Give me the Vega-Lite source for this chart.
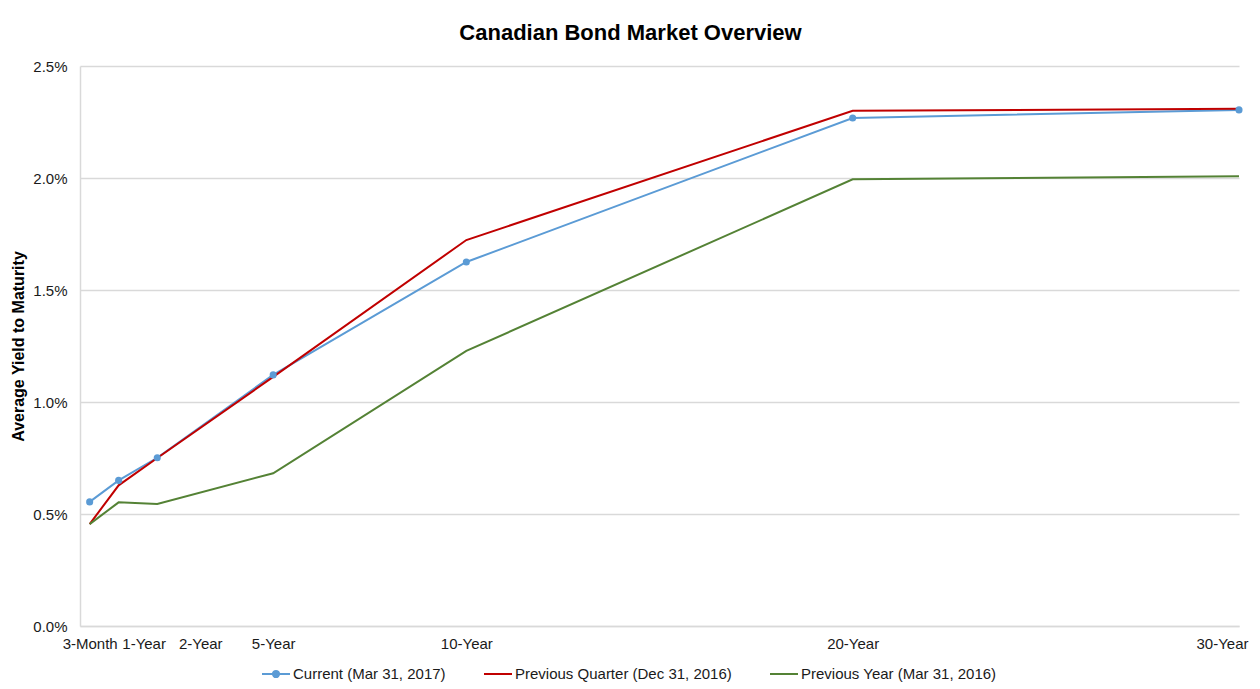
{
  "$schema": "https://vega.github.io/schema/vega-lite/v6.json",
  "width": 1159,
  "height": 560,
  "autosize": "none",
  "padding": {"left": 80, "top": 66, "right": 21, "bottom": 63},
  "background": "white",
  "title": {
    "text": "Canadian Bond Market Overview",
    "font": "Liberation Sans",
    "fontSize": 22,
    "fontWeight": "bold",
    "color": "#000000",
    "anchor": "middle",
    "frame": "group",
    "dx": -29,
    "offset": 14
  },
  "data": {
    "values": [
      {"series": "Current (Mar 31, 2017)", "years": 0.25, "yield": 0.00554},
      {"series": "Current (Mar 31, 2017)", "years": 1, "yield": 0.00650},
      {"series": "Current (Mar 31, 2017)", "years": 2, "yield": 0.00751},
      {"series": "Current (Mar 31, 2017)", "years": 5, "yield": 0.01121},
      {"series": "Current (Mar 31, 2017)", "years": 10, "yield": 0.01625},
      {"series": "Current (Mar 31, 2017)", "years": 20, "yield": 0.02268},
      {"series": "Current (Mar 31, 2017)", "years": 30, "yield": 0.02304},
      {"series": "Previous Quarter (Dec 31, 2016)", "years": 0.25, "yield": 0.00455},
      {"series": "Previous Quarter (Dec 31, 2016)", "years": 1, "yield": 0.00628},
      {"series": "Previous Quarter (Dec 31, 2016)", "years": 2, "yield": 0.00750},
      {"series": "Previous Quarter (Dec 31, 2016)", "years": 5, "yield": 0.01112},
      {"series": "Previous Quarter (Dec 31, 2016)", "years": 10, "yield": 0.01723},
      {"series": "Previous Quarter (Dec 31, 2016)", "years": 20, "yield": 0.02300},
      {"series": "Previous Quarter (Dec 31, 2016)", "years": 30, "yield": 0.02309},
      {"series": "Previous Year (Mar 31, 2016)", "years": 0.25, "yield": 0.00455},
      {"series": "Previous Year (Mar 31, 2016)", "years": 1, "yield": 0.00552},
      {"series": "Previous Year (Mar 31, 2016)", "years": 2, "yield": 0.00545},
      {"series": "Previous Year (Mar 31, 2016)", "years": 5, "yield": 0.00682},
      {"series": "Previous Year (Mar 31, 2016)", "years": 10, "yield": 0.01228},
      {"series": "Previous Year (Mar 31, 2016)", "years": 20, "yield": 0.01994},
      {"series": "Previous Year (Mar 31, 2016)", "years": 30, "yield": 0.02008}
    ]
  },
  "encoding": {
    "x": {
      "field": "years",
      "type": "quantitative",
      "scale": {"domain": [0, 30], "nice": false, "zero": false},
      "axis": {
        "title": null,
        "values": [0.25, 1, 2, 5, 10, 20, 30],
        "labelExpr": "datum.value == 0.25 ? '3-Month' : datum.value + '-Year'",
        "grid": false,
        "ticks": false,
        "tickSize": 0,
        "domain": true,
        "domainColor": "#D9D9D9",
        "domainWidth": 1.5,
        "labelPadding": 10,
        "labelFont": "Liberation Sans",
        "labelFontSize": 15,
        "labelColor": "#1a1a1a",
        "labelFlush": false,
        "labelOverlap": false,
        "labelOffset": {
          "condition": [
            {"test": "datum.value == 1", "value": 25},
            {"test": "datum.value == 2", "value": 43},
            {"test": "datum.value == 30", "value": -17}
          ],
          "value": 0
        }
      }
    },
    "y": {
      "field": "yield",
      "type": "quantitative",
      "scale": {"domain": [0, 0.025], "nice": false},
      "axis": {
        "title": "Average Yield to Maturity",
        "titleFont": "Liberation Sans",
        "titleFontSize": 16,
        "titleFontWeight": "bold",
        "titleColor": "#000000",
        "titlePadding": 6,
        "values": [0, 0.005, 0.01, 0.015, 0.02, 0.025],
        "format": ".1%",
        "grid": true,
        "gridColor": "#D9D9D9",
        "gridWidth": 1.5,
        "ticks": false,
        "tickSize": 0,
        "domain": true,
        "domainColor": "#D9D9D9",
        "domainWidth": 1.5,
        "labelPadding": 13,
        "labelFont": "Liberation Sans",
        "labelFontSize": 15,
        "labelColor": "#1a1a1a"
      }
    },
    "color": {
      "field": "series",
      "type": "nominal",
      "scale": {
        "domain": ["Current (Mar 31, 2017)", "Previous Quarter (Dec 31, 2016)", "Previous Year (Mar 31, 2016)"],
        "range": ["#5B9BD5", "#C00000", "#548235"]
      }
    }
  },
  "layer": [
    {
      "mark": {"type": "line", "strokeWidth": 2},
      "encoding": {
        "color": {
          "field": "series",
          "type": "nominal",
          "scale": {
            "domain": ["Current (Mar 31, 2017)", "Previous Quarter (Dec 31, 2016)", "Previous Year (Mar 31, 2016)"],
            "range": ["#5B9BD5", "#C00000", "#548235"]
          },
          "legend": {
            "title": null,
            "orient": "none",
            "direction": "horizontal",
            "legendX": 181,
            "legendY": 593,
            "symbolType": "stroke",
            "symbolSize": 784,
            "symbolStrokeWidth": 2,
            "labelOffset": 2,
            "columnPadding": 34,
            "labelFont": "Liberation Sans",
            "labelFontSize": 15,
            "labelColor": "#1a1a1a",
            "labelLimit": 400,
            "encode": {
              "symbols": {
                "update": {
                  "shape": {"signal": "datum.value === 'Current (Mar 31, 2017)' ? 'M-1,0L1,0M-0.22,0A0.22,0.22,0,1,1,0.22,0A0.22,0.22,0,1,1,-0.22,0Z' : 'stroke'"},
                  "fill": {"signal": "datum.value === 'Current (Mar 31, 2017)' ? '#5B9BD5' : 'transparent'"}
                }
              }
            }
          }
        }
      }
    },
    {
      "transform": [{"filter": "datum.series === 'Current (Mar 31, 2017)'"}],
      "mark": {"type": "point", "filled": true, "size": 50, "opacity": 1},
      "encoding": {
        "color": {
          "field": "series",
          "type": "nominal",
          "scale": {
            "domain": ["Current (Mar 31, 2017)", "Previous Quarter (Dec 31, 2016)", "Previous Year (Mar 31, 2016)"],
            "range": ["#5B9BD5", "#C00000", "#548235"]
          },
          "legend": null
        }
      }
    }
  ],
  "config": {
    "view": {"stroke": null},
    "font": "Liberation Sans"
  }
}
